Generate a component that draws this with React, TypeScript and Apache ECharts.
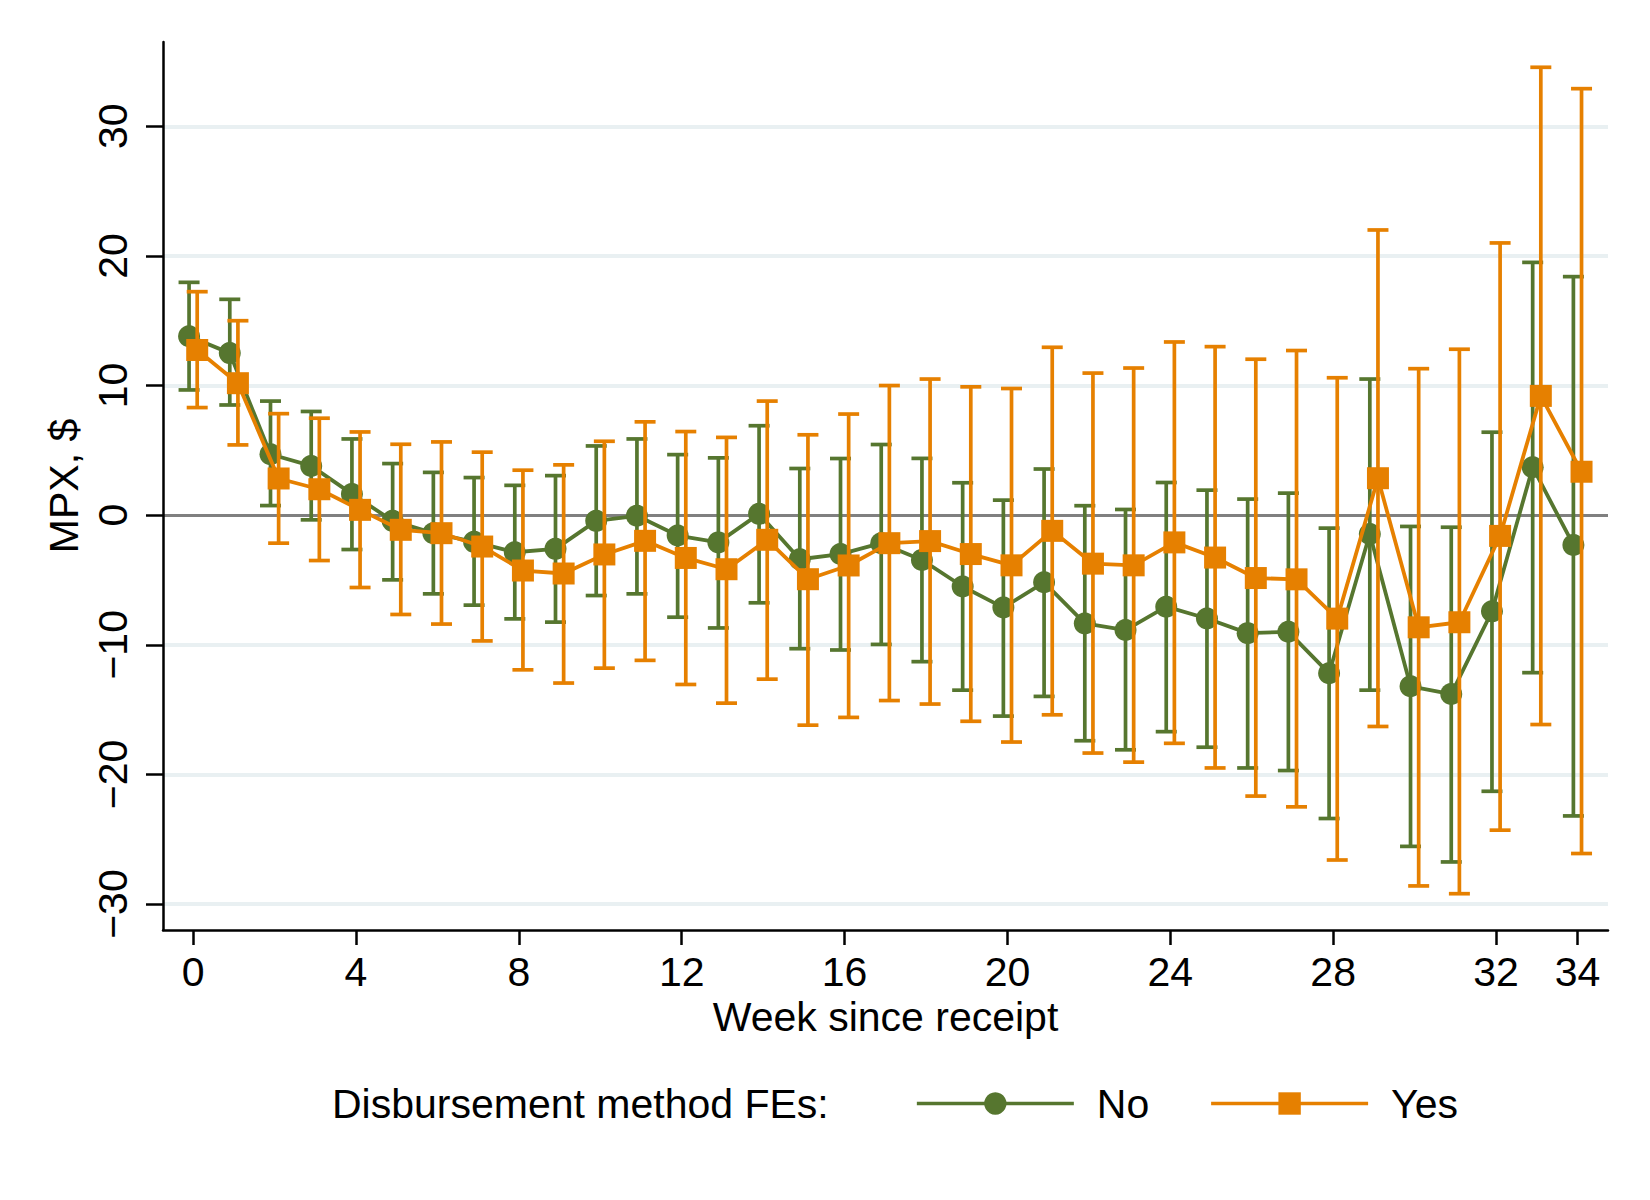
import React, { useEffect, useRef } from "react";
import * as echarts from "echarts";

const weeks = [0,1,2,3,4,5,6,7,8,9,10,11,12,13,14,15,16,17,18,19,20,21,22,23,24,25,26,27,28,29,30,31,32,33,34];

const noEst = [13.8,12.5,4.7,3.8,1.64,-0.44,-1.39,-2.06,-2.86,-2.6,-0.44,-0.05,-1.57,-2.1,0.1,-3.4,-3.0,-2.16,-3.45,-5.5,-7.13,-5.18,-8.35,-8.86,-7.06,-7.97,-9.1,-9.0,-12.2,-1.45,-13.2,-13.8,-7.42,3.7,-2.3];
const noLo = [9.66,8.5,0.74,-0.36,-2.65,-4.99,-6.07,-6.94,-8.0,-8.25,-6.2,-6.07,-7.87,-8.7,-6.76,-10.3,-10.4,-9.97,-11.3,-13.5,-15.5,-13.98,-17.4,-18.1,-16.7,-17.9,-19.5,-19.7,-23.4,-13.5,-25.55,-26.75,-21.3,-12.15,-23.2];
const noHi = [17.96,16.65,8.8,8.0,5.88,3.98,3.3,2.9,2.3,3.05,5.34,5.88,4.67,4.42,6.9,3.6,4.37,5.45,4.38,2.5,1.16,3.56,0.73,0.44,2.52,1.93,1.24,1.7,-1.0,10.5,-0.87,-0.93,6.4,19.5,18.4];

const yesEst = [12.74,10.18,2.83,2.0,0.41,-1.13,-1.39,-2.42,-4.27,-4.5,-3.03,-1.98,-3.3,-4.17,-1.9,-4.94,-3.88,-2.16,-2.0,-3.0,-3.87,-1.21,-3.74,-3.87,-2.1,-3.27,-4.85,-4.95,-7.98,2.85,-8.65,-8.26,-1.6,9.2,3.35];
const yesLo = [8.3,5.42,-2.16,-3.5,-5.58,-7.66,-8.4,-9.7,-11.93,-12.95,-11.8,-11.2,-13.06,-14.5,-12.65,-16.2,-15.6,-14.3,-14.57,-15.9,-17.5,-15.4,-18.35,-19.05,-17.6,-19.5,-21.67,-22.5,-26.6,-16.3,-28.6,-29.2,-24.3,-16.15,-26.1];
const yesHi = [17.24,15.0,7.83,7.48,6.42,5.47,5.65,4.86,3.47,3.88,5.7,7.2,6.45,6.0,8.8,6.2,7.8,10.0,10.5,9.9,9.77,12.95,10.96,11.35,13.36,13.0,12.03,12.7,10.6,22.0,11.3,12.8,21.0,34.55,32.9];

const xTicks = [0, 4, 8, 12, 16, 20, 24, 28, 32, 34];
const yTicks = [-30, -20, -10, 0, 10, 20, 30];
const gridValues = [-30, -20, -10, 10, 20, 30];

const GREEN = "#56762f";
const ORANGE = "#e68000";
const FONT = "'Liberation Sans', Arial, Helvetica, sans-serif";
const DODGE = 0.1;

function errorBar(color: string) {
  return (params: any, api: any) => {
    const x = api.value(0);
    const pLo = api.coord([x, api.value(1)]);
    const pHi = api.coord([x, api.value(2)]);
    const hw = 10.5;
    const style = { stroke: color, lineWidth: 3.7, fill: "none" };
    return {
      type: "group",
      children: [
        { type: "line", shape: { x1: pLo[0], y1: pLo[1], x2: pHi[0], y2: pHi[1] }, style },
        { type: "line", shape: { x1: pLo[0] - hw, y1: pLo[1], x2: pLo[0] + hw, y2: pLo[1] }, style },
        { type: "line", shape: { x1: pHi[0] - hw, y1: pHi[1], x2: pHi[0] + hw, y2: pHi[1] }, style },
      ],
    };
  };
}

const minus = (v: number) => String(v).replace("-", "\u2212");

export default function App() {
  const ref = useRef<HTMLDivElement>(null);
  useEffect(() => {
    document.body.style.margin = "0";
    if (!ref.current) return;
    const chart = echarts.init(ref.current, null, { renderer: "svg" });
    const noBars = weeks.map((w, i) => [w - DODGE, noLo[i], noHi[i]]);
    const yesBars = weeks.map((w, i) => [w + DODGE, yesLo[i], yesHi[i]]);
    const noLine = weeks.map((w, i) => [w - DODGE, noEst[i]]);
    const yesLine = weeks.map((w, i) => [w + DODGE, yesEst[i]]);
    const axisLineStyle = { color: "#000", width: 2.5 };
    chart.setOption({
      animation: false,
      backgroundColor: "#fff",
      textStyle: { fontFamily: FONT },
      grid: { left: 163, right: 42, top: 42, bottom: 270, containLabel: false, outerBoundsMode: "none" },
      xAxis: {
        type: "value",
        min: -0.74,
        max: 34.75,
        axisLine: { show: true, onZero: false, lineStyle: axisLineStyle },
        axisTick: { show: true, customValues: xTicks, length: 15, lineStyle: axisLineStyle },
        axisLabel: { customValues: xTicks, fontSize: 41, margin: 21, color: "#000", fontFamily: FONT },
        splitLine: { show: false },
        name: "Week since receipt",
        nameLocation: "middle",
        nameGap: 66,
        nameTextStyle: { fontSize: 41, color: "#000", fontFamily: FONT },
      },
      yAxis: {
        type: "value",
        min: -32,
        max: 36.5,
        axisLine: { show: true, onZero: false, lineStyle: axisLineStyle },
        axisTick: { show: true, customValues: yTicks, length: 17, lineStyle: axisLineStyle },
        axisLabel: {
          customValues: yTicks,
          rotate: 90,
          fontSize: 41,
          margin: 30,
          color: "#000",
          fontFamily: FONT,
          formatter: (v: number) => minus(v),
        },
        splitLine: { show: false },
        name: "MPX, $",
        nameLocation: "middle",
        nameRotate: 90,
        nameGap: 76,
        nameTextStyle: { fontSize: 41, color: "#000", fontFamily: FONT },
      },
      legend: {
        data: ["No", "Yes"],
        left: 915,
        top: 1083,
        orient: "horizontal",
        padding: 0,
        itemWidth: 157,
        itemHeight: 28,
        itemGap: 60,
        selectedMode: false,
        lineStyle: { width: 3.7 },
        textStyle: { fontSize: 41, color: "#000", fontFamily: FONT, padding: [0, 0, 4, 18], verticalAlign: "middle" },
      },
      graphic: [
        {
          type: "text",
          left: 332,
          top: 1104 - 21,
          style: { text: "Disbursement method FEs:", fontSize: 41, fill: "#000", fontFamily: FONT },
        },
      ],
      series: [
        {
          name: "grid",
          type: "line",
          data: [],
          z: 0,
          silent: true,
          markLine: {
            silent: true,
            z: 0,
            symbol: ["none", "none"],
            label: { show: false },
            animation: false,
            data: [
              ...gridValues.map((v) => ({ yAxis: v, lineStyle: { color: "#e9f0f2", width: 4, type: "solid" } })),
              { yAxis: 0, lineStyle: { color: "#808080", width: 3.2, type: "solid" } },
            ],
          },
        },
        {
          name: "No CI",
          type: "custom",
          z: 2,
          renderItem: errorBar(GREEN),
          encode: { x: 0, y: [1, 2] },
          data: noBars,
        },
        {
          name: "No",
          type: "line",
          z: 3,
          data: noLine,
          symbol: "circle",
          symbolSize: 22,
          itemStyle: { color: GREEN },
          lineStyle: { color: GREEN, width: 3.8 },
        },
        {
          name: "Yes CI",
          type: "custom",
          z: 4,
          renderItem: errorBar(ORANGE),
          encode: { x: 0, y: [1, 2] },
          data: yesBars,
        },
        {
          name: "Yes",
          type: "line",
          z: 5,
          data: yesLine,
          symbol: "rect",
          symbolSize: 22,
          itemStyle: { color: ORANGE },
          lineStyle: { color: ORANGE, width: 3.8 },
        },
      ],
    });
    return () => chart.dispose();
  }, []);
  return <div ref={ref} style={{ width: 1650, height: 1200 }} />;
}
